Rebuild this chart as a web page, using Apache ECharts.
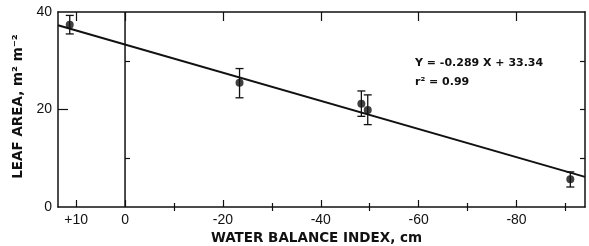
<!DOCTYPE html>
<html>
<head>
<meta charset="utf-8">
<script src="https://cdn.jsdelivr.net/npm/echarts@6/dist/echarts.min.js"></script>
<style>
  html, body { margin: 0; padding: 0; background: #fff; }
  #chart { width: 589px; height: 246px; }
</style>
</head>
<body>
<div id="chart"></div>
<script>
// measured points: water balance index (cm), leaf area, error bar low / high
const waterIndex = [11.3, -23.4, -48.3, -49.6, -91.0]
const leafArea = [37.4, 25.5, 21.2, 19.9, 5.7]
const errLow = [35.5, 22.4, 18.6, 16.9, 4.1]
const errHigh = [39.3, 28.4, 23.8, 23.0, 7.2]

// regression as printed on the figure
const slope = 0.289
const intercept = 33.34
const xRange = [-94, 13.7]

const xMajorTicks = [10, 0, -20, -40, -60, -80]
const xMinorTicks = [-10, -30, -50, -70, -90]
const yLabels = [0, 20, 40]

const font = 'Liberation Sans'
const ink = '#111'

const chart = echarts.init(document.getElementById('chart'))

const fitLine = xRange.map(x => [x, intercept + slope * x])

const baseX = {
    type: 'value',
    inverse: true,
    min: xRange[0],
    max: xRange[1],
    splitLine: { show: false },
    axisLine: { show: false },
    axisLabel: { show: false },
}

chart.setOption({
    animation: false,
    backgroundColor: '#fff',
    grid: { left: 58, right: 4, top: 12, bottom: 39, containLabel: false, outerBoundsMode: 'none' },
    xAxis: [
        Object.assign({}, baseX, {
            position: 'bottom',
            axisLine: { show: true, onZero: false, lineStyle: { color: ink, width: 1.5 } },
            axisTick: { inside: true, length: 7, customValues: xMajorTicks, lineStyle: { color: ink, width: 1.2 } },
            axisLabel: {
                show: true, customValues: xMajorTicks, margin: 6,
                color: ink, fontFamily: font, fontSize: 14,
                formatter: v => v > 0 ? '+' + v : String(v),
            },
            name: 'WATER BALANCE INDEX, cm',
            nameLocation: 'middle',
            nameGap: 24,
            nameTextStyle: { color: ink, fontFamily: 'DejaVu Sans', fontWeight: 'bold', fontSize: 13.5, padding: [0, 10, 0, 0] },
        }),
        Object.assign({}, baseX, {
            position: 'bottom',
            axisTick: { inside: true, length: 4, customValues: xMinorTicks, lineStyle: { color: ink, width: 1.2 } },
        }),
        Object.assign({}, baseX, {
            position: 'top',
            axisLine: { show: true, onZero: false, lineStyle: { color: ink, width: 1.5 } },
            axisTick: { inside: true, length: 9, customValues: xMajorTicks, lineStyle: { color: ink, width: 1.2 } },
        }),
        Object.assign({}, baseX, {
            position: 'top',
            axisTick: { inside: true, length: 4, customValues: xMinorTicks, lineStyle: { color: ink, width: 1.2 } },
        }),
    ],
    yAxis: [
        {
            type: 'value', min: 0, max: 40, interval: 10,
            position: 'left',
            splitLine: { show: false },
            axisLine: { show: true, onZero: false, lineStyle: { color: ink, width: 1.5 } },
            axisTick: { inside: true, length: 10, customValues: [20], lineStyle: { color: ink, width: 1.2 } },
            axisLabel: { customValues: yLabels, margin: 6, color: ink, fontFamily: font, fontSize: 14 },
            name: 'LEAF AREA, m² m⁻²',
            nameLocation: 'middle',
            nameGap: 27,
            nameTextStyle: { color: ink, fontFamily: 'DejaVu Sans', fontWeight: 'bold', fontSize: 13.5, padding: [0, 0, 0, 6] },
        },
        {
            type: 'value', min: 0, max: 40, interval: 10,
            position: 'left',
            splitLine: { show: false },
            axisLine: { show: false },
            axisLabel: { show: false },
            axisTick: { inside: true, length: 5, customValues: [10, 30], lineStyle: { color: ink, width: 1.2 } },
        },
        {
            type: 'value', min: 0, max: 40, interval: 10,
            position: 'right',
            splitLine: { show: false },
            axisLine: { show: true, onZero: false, lineStyle: { color: ink, width: 1.5 } },
            axisLabel: { show: false },
            axisTick: { inside: true, length: 5, customValues: [10, 20, 30], lineStyle: { color: ink, width: 1.2 } },
        },
    ],
    graphic: [
        {
            type: 'text', left: 415, top: 58,
            style: { text: 'Y = -0.289 X + 33.34', fill: ink, font: 'bold 11px "DejaVu Sans"' },
        },
        {
            type: 'text', left: 415, top: 77,
            style: { text: 'r² = 0.99', fill: ink, font: 'bold 11px "DejaVu Sans"' },
        },
    ],
    series: [
        {
            type: 'line',
            data: [[0, 0], [0, 40]],
            symbol: 'none',
            lineStyle: { color: ink, width: 1.5 },
            silent: true,
        },
        {
            type: 'line',
            data: fitLine,
            symbol: 'none',
            lineStyle: { color: ink, width: 2 },
            silent: true,
        },
        {
            type: 'custom',
            data: waterIndex.map((x, i) => [x, errLow[i], errHigh[i]]),
            renderItem: (params, api) => {
                const lo = api.coord([api.value(0), api.value(1)])
                const hi = api.coord([api.value(0), api.value(2)])
                const w = 4
                const style = { stroke: ink, lineWidth: 1.3 }
                return {
                    type: 'group',
                    children: [
                        { type: 'line', shape: { x1: lo[0], y1: lo[1], x2: hi[0], y2: hi[1] }, style },
                        { type: 'line', shape: { x1: lo[0] - w, y1: lo[1], x2: lo[0] + w, y2: lo[1] }, style },
                        { type: 'line', shape: { x1: hi[0] - w, y1: hi[1], x2: hi[0] + w, y2: hi[1] }, style },
                    ],
                }
            },
            z: 3,
        },
        {
            type: 'scatter',
            data: waterIndex.map((x, i) => [x, leafArea[i]]),
            symbol: 'circle',
            symbolSize: 8,
            itemStyle: { color: ink },
            z: 4,
        },
    ],
})
</script>
</body>
</html>
